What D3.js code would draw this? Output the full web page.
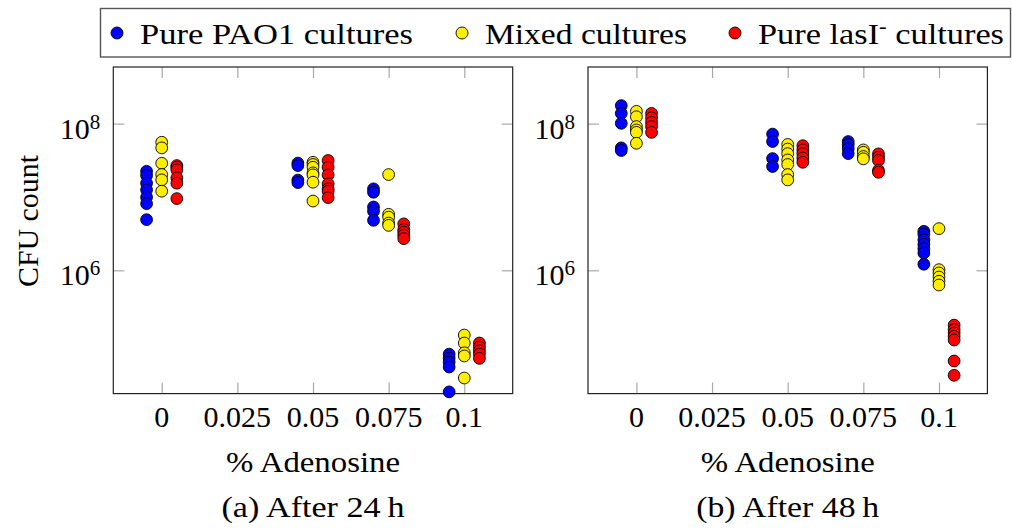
<!DOCTYPE html>
<html>
<head>
<meta charset="utf-8">
<script src="https://cdn.jsdelivr.net/npm/d3@7"></script>
<style>
  html, body { margin: 0; padding: 0; background: #fff; }
  svg { display: block; }
</style>
</head>
<body>
<svg id="chart" width="1012" height="529"></svg>
<script>
// Adenosine concentrations (%) at which cultures were grown
const concentrations = [0, 0.05, 0.075, 0.1];
const xTicks = [0, 0.025, 0.05, 0.075, 0.1];
const yTicks = [1e6, 1e8];

const seriesNames = ["Pure PAO1 cultures", "Mixed cultures", "Pure lasI"];
const seriesColors = ["#0000ff", "#ffee00", "#ff0000"];

// CFU counts after 24 h, one list of replicates per concentration
const pao1_24 = [
  [2.24e7, 1.96e7, 1.54e7, 1.25e7, 9.9e6, 8.1e6, 4.9e6],
  [2.9e7, 2.68e7, 1.70e7, 1.57e7],
  [1.29e7, 1.16e7, 7.3e6, 6.4e6, 4.8e6],
  [7.2e4, 6.35e4, 5.6e4, 4.8e4, 2.2e4]
];
const mixed_24 = [
  [5.57e7, 4.67e7, 2.88e7, 2.02e7, 1.71e7, 1.2e7],
  [2.97e7, 2.77e7, 2.54e7, 2.13e7, 2.0e7, 1.59e7, 8.8e6],
  [2.02e7, 5.8e6, 5.3e6, 4.4e6, 4.1e6],
  [1.31e5, 1.02e5, 7.5e4, 6.8e4, 3.4e4]
];
const lasI_24 = [
  [2.68e7, 2.54e7, 2.34e7, 1.82e7, 1.54e7, 9.5e6],
  [3.14e7, 2.54e7, 2.0e7, 1.51e7, 1.29e7, 1.2e7, 9.8e6],
  [4.3e6, 3.6e6, 3.3e6, 3.0e6, 2.7e6],
  [1.02e5, 9.0e4, 8.0e4, 7.2e4, 6.3e4]
];

// CFU counts after 48 h
const pao1_48 = [
  [1.76e8, 1.38e8, 1.01e8, 4.67e7, 4.3e7],
  [7.2e7, 5.7e7, 3.34e7, 2.6e7],
  [5.7e7, 5.2e7, 4.57e7, 3.9e7],
  [3.4e6, 3.1e6, 2.6e6, 2.26e6, 1.97e6, 1.72e6, 1.21e6]
];
const mixed_48 = [
  [1.47e8, 1.24e8, 9.1e7, 8.2e7, 7.6e7, 5.4e7],
  [5.2e7, 4.5e7, 3.9e7, 3.2e7, 2.77e7, 2.02e7, 1.71e7],
  [4.38e7, 4.07e7, 3.56e7, 3.31e7],
  [3.7e6, 1.02e6, 9.2e5, 8.1e5, 7.1e5, 6.3e5]
];
const lasI_48 = [
  [1.38e8, 1.2e8, 1.04e8, 9.1e7, 7.6e7],
  [5.0e7, 4.4e7, 3.9e7, 3.4e7, 2.97e7],
  [3.87e7, 3.48e7, 3.14e7, 2.3e7, 2.17e7],
  [1.79e5, 1.56e5, 1.40e5, 1.26e5, 1.12e5, 5.8e4, 3.7e4]
];

const captions = ["(a) After 24\u2009h", "(b) After 48\u2009h"];
const panelData = [[pao1_24, mixed_24, lasI_24], [pao1_48, mixed_48, lasI_48]];

// pick the first installed serif face (checked by comparing glyph widths against a monospace fallback)
function pickFont(candidates) {
  const ctx = document.createElement("canvas").getContext("2d");
  const probe = "Pure PAO1 cultures 0.025 Wwmil";
  ctx.font = "40px monospace";
  const base = ctx.measureText(probe).width;
  for (const c of candidates) {
    ctx.font = `40px "${c}", monospace`;
    if (Math.abs(ctx.measureText(probe).width - base) > 0.5) return `"${c}"`;
  }
  return "serif";
}
const FONT = pickFont(["Liberation Serif", "DejaVu Serif", "Noto Serif", "Times New Roman",
  "Tinos", "FreeSerif", "Nimbus Roman", "Noto Serif CJK SC", "Noto Serif CJK JP"]);

const svg = d3.select("#chart");
const FS = 30;               // main font size
const tickLen = 11;
const panelW = 399.4, panelH = 326.6, panelTop = 67;
const panelLefts = [113.3, 588];
const shift = 0.005;         // side-by-side spread of the three series

function label(sel) {
  return sel.append("text").attr("font-family", FONT).attr("font-size", FS).attr("fill", "#000");
}

// --- legend ---
const legend = svg.append("g");
legend.append("rect")
  .attr("x", 100.5).attr("y", 8.5).attr("width", 910).attr("height", 48.5)
  .attr("fill", "#fff").attr("stroke", "#555").attr("stroke-width", 1.4);
const legendMarkX = [117, 462, 735];
const legendTextLen = [273, 202, 246];
seriesNames.forEach((name, i) => {
  legend.append("circle")
    .attr("cx", legendMarkX[i]).attr("cy", 33).attr("r", 6)
    .attr("fill", seriesColors[i]).attr("stroke", "#000").attr("stroke-width", 0.9);
  const t = label(legend)
    .attr("x", legendMarkX[i] + 23).attr("y", 43.5)
    .attr("textLength", legendTextLen[i]).attr("lengthAdjust", "spacingAndGlyphs");
  if (i === 2) {
    t.append("tspan").text(name);
    t.append("tspan").attr("font-size", 20).attr("dy", -11).text("-");
    t.append("tspan").attr("dy", 11).text(" cultures");
  } else {
    t.text(name);
  }
});

// --- panels ---
panelData.forEach((series, p) => {
  const left = panelLefts[p];
  const x = d3.scaleLinear().domain([-0.016, 0.116]).range([left, left + panelW]);
  const y = d3.scaleLog().domain([Math.pow(10, 4.319), Math.pow(10, 8.772)])
    .range([panelTop + panelH, panelTop]);

  const g = svg.append("g");

  // tick marks on all four sides, pointing inward
  const tickColor = "#a8a8a8";
  g.append("g").attr("transform", `translate(0,${panelTop + panelH})`)
    .call(d3.axisBottom(x).tickValues(xTicks).tickSize(-tickLen).tickFormat(""));
  g.append("g").attr("transform", `translate(0,${panelTop})`)
    .call(d3.axisTop(x).tickValues(xTicks).tickSize(-tickLen).tickFormat(""));
  g.append("g").attr("transform", `translate(${left},0)`)
    .call(d3.axisLeft(y).tickValues(yTicks).tickSize(-tickLen).tickFormat(""));
  g.append("g").attr("transform", `translate(${left + panelW},0)`)
    .call(d3.axisRight(y).tickValues(yTicks).tickSize(-tickLen).tickFormat(""));
  g.selectAll(".domain").remove();
  g.selectAll(".tick line").attr("stroke", tickColor).attr("stroke-width", 1.2);

  // frame
  g.append("rect")
    .attr("x", left).attr("y", panelTop).attr("width", panelW).attr("height", panelH)
    .attr("fill", "none").attr("stroke", "#222").attr("stroke-width", 1.2);

  // x tick labels
  xTicks.forEach(d => {
    label(g).attr("x", x(d)).attr("y", panelTop + panelH + 33)
      .attr("text-anchor", "middle").text(d3.format("")(d));
  });

  // y tick labels as powers of ten
  yTicks.forEach(v => {
    const t = label(g).attr("x", left - 13).attr("y", y(v) + 15).attr("text-anchor", "end");
    t.append("tspan").text("10");
    t.append("tspan").attr("font-size", 21).attr("dy", -10).text(Math.round(Math.log10(v)));
  });

  // axis label and caption
  const cx = left + panelW / 2;
  label(g).attr("x", cx).attr("y", 472).attr("text-anchor", "middle")
    .attr("textLength", 174).attr("lengthAdjust", "spacingAndGlyphs")
    .text("% Adenosine");
  label(g).attr("x", cx).attr("y", 517).attr("text-anchor", "middle")
    .attr("textLength", 183).attr("lengthAdjust", "spacingAndGlyphs")
    .text(captions[p]);

  if (p === 0) {
    label(g).attr("transform", `translate(38,221) rotate(-90)`)
      .attr("text-anchor", "middle")
      .attr("textLength", 132).attr("lengthAdjust", "spacingAndGlyphs")
      .text("CFU count");
  }

  // replicate points
  series.forEach((groups, s) => {
    const pts = [];
    groups.forEach((vals, gi) => vals.forEach(v => pts.push({ c: concentrations[gi] + (s - 1) * shift, v })));
    g.append("g").selectAll("circle").data(pts).enter().append("circle")
      .attr("cx", d => x(d.c)).attr("cy", d => y(d.v)).attr("r", 5.9)
      .attr("fill", seriesColors[s]).attr("stroke", "#000").attr("stroke-width", 0.9);
  });
});
</script>
</body>
</html>
